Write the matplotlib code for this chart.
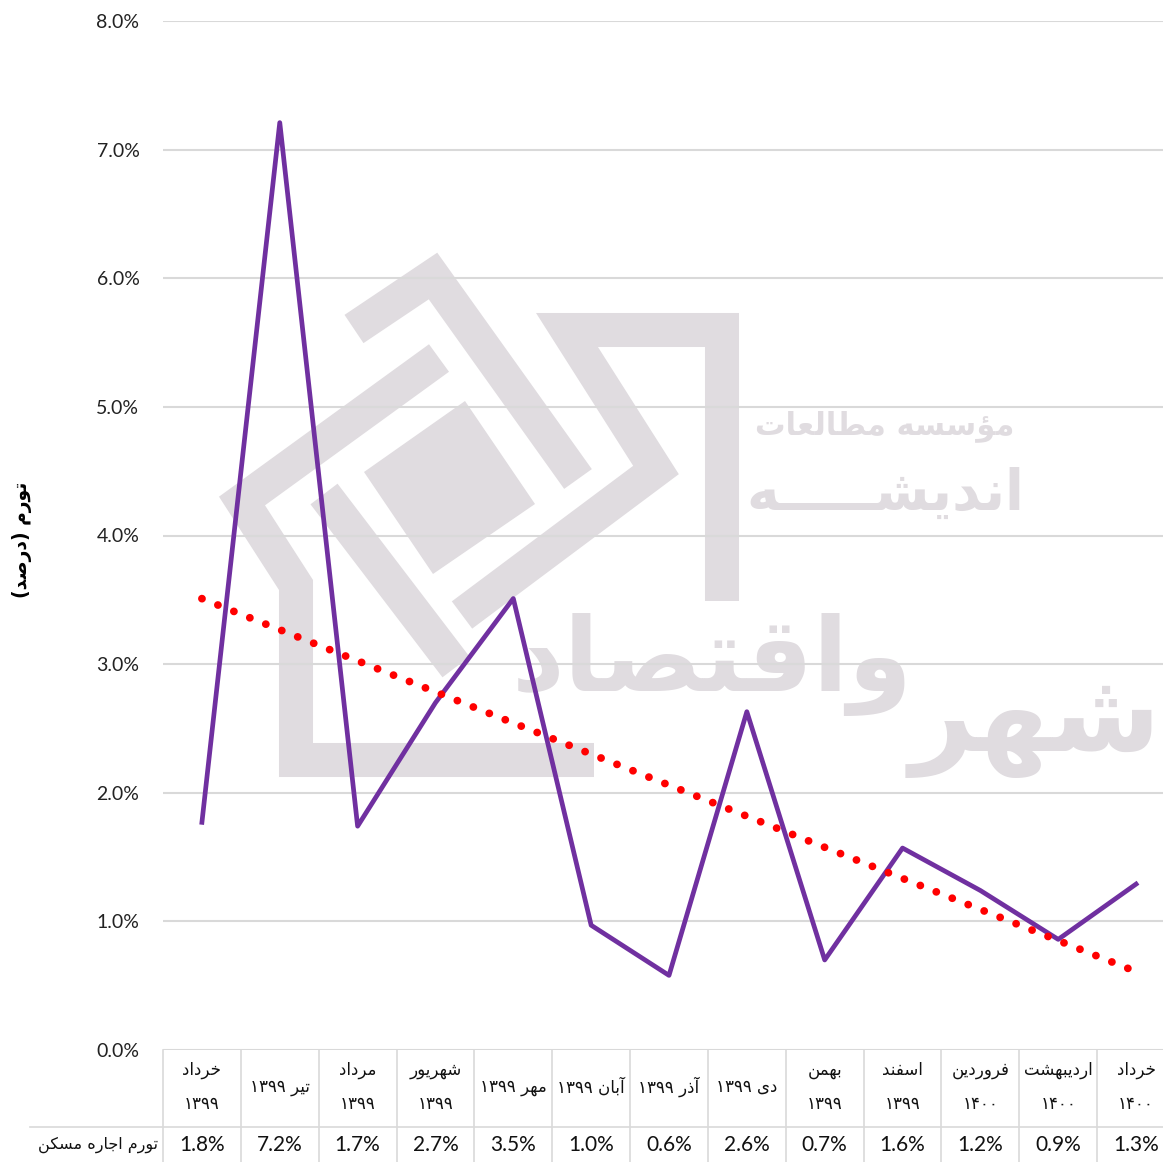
"""
Monthly rent inflation (Khordad 1399 - Khordad 1400) with linear trend
and a small data table under the axis.
"""
import numpy as np
import matplotlib.pyplot as plt
import matplotlib.transforms as mtransforms
from matplotlib.lines import Line2D
from matplotlib.patches import Polygon

months = [
    'خرداد\n۱۳۹۹', 'تیر ۱۳۹۹', 'مرداد\n۱۳۹۹', 'شهریور\n۱۳۹۹', 'مهر ۱۳۹۹',
    'آبان ۱۳۹۹', 'آذر ۱۳۹۹', 'دی ۱۳۹۹', 'بهمن\n۱۳۹۹', 'اسفند\n۱۳۹۹',
    'فروردین\n۱۴۰۰', 'اردیبهشت\n۱۴۰۰', 'خرداد\n۱۴۰۰',
]
rent_inflation = [1.77, 7.21, 1.74, 2.70, 3.51, 0.97, 0.58, 2.63, 0.70,
                  1.57, 1.24, 0.86, 1.29]
row_label = 'تورم اجاره مسکن'
y_label = 'تورم (درصد)'
y_ticks = [0, 1, 2, 3, 4, 5, 6, 7, 8]

W, H = 1163, 1162
PURPLE = '#7030A0'
GRID = '#d9d9d9'
MARK = '#e0dce0'

# matplotlib has no arabic shaping / bidi, so do it by hand with
# presentation forms
DUAL = {'ب': 0xFE8F, 'ت': 0xFE95, 'ث': 0xFE99, 'ج': 0xFE9D, 'ح': 0xFEA1,
        'خ': 0xFEA5, 'س': 0xFEB1, 'ش': 0xFEB5, 'ص': 0xFEB9, 'ض': 0xFEBD,
        'ط': 0xFEC1, 'ظ': 0xFEC5, 'ع': 0xFEC9, 'غ': 0xFECD, 'ف': 0xFED1,
        'ق': 0xFED5, 'ل': 0xFEDD, 'م': 0xFEE1, 'ن': 0xFEE5, 'ه': 0xFEE9,
        'پ': 0xFB56, 'چ': 0xFB7A, 'ک': 0xFB8E, 'گ': 0xFB92, 'ی': 0xFBFC}
RIGHT = {'ا': 0xFE8D, 'آ': 0xFE81, 'د': 0xFEA9, 'ذ': 0xFEAB, 'ر': 0xFEAD,
         'ز': 0xFEAF, 'ژ': 0xFB8A, 'و': 0xFEED, 'ؤ': 0xFE85}
TATWEEL = 'ـ'


def joins_next(c):
    return c in DUAL or c == TATWEEL


def joins(c):
    return c in DUAL or c in RIGHT or c == TATWEEL


def shape_word(w):
    out = []
    i = 0
    while i < len(w):
        c = w[i]
        prev = w[i - 1] if i > 0 else ''
        nxt = w[i + 1] if i + 1 < len(w) else ''
        link_prev = joins_next(prev) and joins(c)
        if c == 'ل' and nxt in ('ا', 'آ'):
            lig = {'ا': (0xFEFB, 0xFEFC), 'آ': (0xFEF5, 0xFEF6)}[nxt]
            out.append(chr(lig[1] if link_prev else lig[0]))
            i += 2
            continue
        if not joins(c) or c == TATWEEL:
            out.append(c)
        elif c in RIGHT:
            out.append(chr(RIGHT[c] + (1 if link_prev else 0)))
        else:
            link_next = joins(nxt)
            if link_prev and link_next:
                k = 3
            elif link_prev:
                k = 1
            elif link_next:
                k = 2
            else:
                k = 0
            out.append(chr(DUAL[c] + k))
        i += 1
    return ''.join(out)


def fa(text):
    lines = []
    for line in text.split('\n'):
        tokens = []
        for tok in line.split(' '):
            if any(ch in DUAL or ch in RIGHT for ch in tok):
                s = shape_word(tok)[::-1]
                tokens.append(s.translate(str.maketrans('()', ')(')))
            else:
                tokens.append(tok)
        lines.append(' '.join(tokens[::-1]))
    return '\n'.join(lines)


def px(x, y):
    return x / W, 1 - y / H


plt.rcParams['font.family'] = ['Lato', 'DejaVu Sans']

fig = plt.figure(figsize=(W / 100, H / 100), dpi=100)
fig.patch.set_facecolor('white')
ax = fig.add_axes([163 / W, 112 / H, 1012 / W, 1029 / H])
ax.patch.set_visible(False)

# watermark logo (light grey, behind everything)
bands = [
    [(354, 329), (433, 276), (578, 479)],
    [(439, 358), (242, 501), (296, 585), (296, 760), (594, 760)],
    [(324, 494), (456, 667)],
    [(462, 615), (656, 470), (567, 330), (722, 330), (722, 601)],
]
for b in bands:
    xs, ys = zip(*[px(*p) for p in b])
    fig.add_artist(Line2D(xs, ys, transform=fig.transFigure, color=MARK,
                          lw=24.5, solid_joinstyle='miter',
                          solid_capstyle='butt', zorder=-2))
sq = [px(465, 401), px(535, 504), px(433, 574), px(364, 472)]
fig.add_artist(Polygon(sq, closed=True, transform=fig.transFigure,
                       facecolor=MARK, edgecolor='none', zorder=-2))
wm = dict(color=MARK, family='DejaVu Sans', fontweight='bold', zorder=-2,
          ha='center', va='center')
fig.text(*px(885, 426), fa('مؤسسه مطالعات'), fontsize=22, **wm)
fig.text(*px(885, 495), fa('اندیشـــــه'), fontsize=40, **wm)
fig.text(*px(712, 665), fa('واقتصاد'), fontsize=74, **wm)
fig.text(*px(1035, 725), fa('شهر'), fontsize=80, **wm)

x = np.arange(len(rent_inflation))
ax.plot(x, rent_inflation, color=PURPLE, lw=3.4, zorder=3)

# linear trend line
coef = np.polyfit(x, rent_inflation, 1)
ax.plot(x, np.polyval(coef, x), color='#ff0000', lw=5.6,
        linestyle=(0, (0.01, 2.2)), dash_capstyle='round', zorder=4)

ax.set_xlim(-0.5, len(months) - 0.5)
ax.set_ylim(0, 8)
ax.set_yticks(y_ticks)
ax.set_yticklabels([f'{v:.1f}%' for v in y_ticks], fontsize=14,
                   color='#222222')
ax.tick_params(axis='y', length=0, pad=17)
ax.set_xticks([])
ax.grid(axis='y', color=GRID, lw=1.5, zorder=0)
ax.set_axisbelow(True)
for s in ax.spines.values():
    s.set_visible(False)

fig.text(*px(22, 540), fa(y_label), rotation=90, ha='center', va='center',
         fontsize=13.5, fontweight='bold', family='DejaVu Sans')

# data table under the axis
tr = mtransforms.blended_transform_factory(ax.transData, ax.transAxes)
y_head = -37 / 1029
y_val = -95 / 1029
y_sep = -77 / 1029
for i, (m, v) in enumerate(zip(months, rent_inflation)):
    ax.text(i, y_head, fa(m), transform=tr, ha='center', va='center',
            fontsize=12, family='DejaVu Sans', linespacing=2.1,
            color='#111111')
    ax.text(i, y_val, f'{v:.1f}%', transform=tr, ha='center', va='center',
            fontsize=15, color='#111111')
for k in range(len(months) + 1):
    ax.plot([k - 0.5, k - 0.5], [0, -0.14], transform=tr, color=GRID,
            lw=1.2, clip_on=False)
ax.plot([-0.131, 1.0], [y_sep, y_sep], transform=ax.transAxes, color=GRID,
        lw=1.2, clip_on=False)
ax.text(-0.064, y_val, fa(row_label), transform=ax.transAxes, ha='center',
        va='center', fontsize=11.5, family='DejaVu Sans', color='#111111')

fig.savefig('out.png', dpi=100)
